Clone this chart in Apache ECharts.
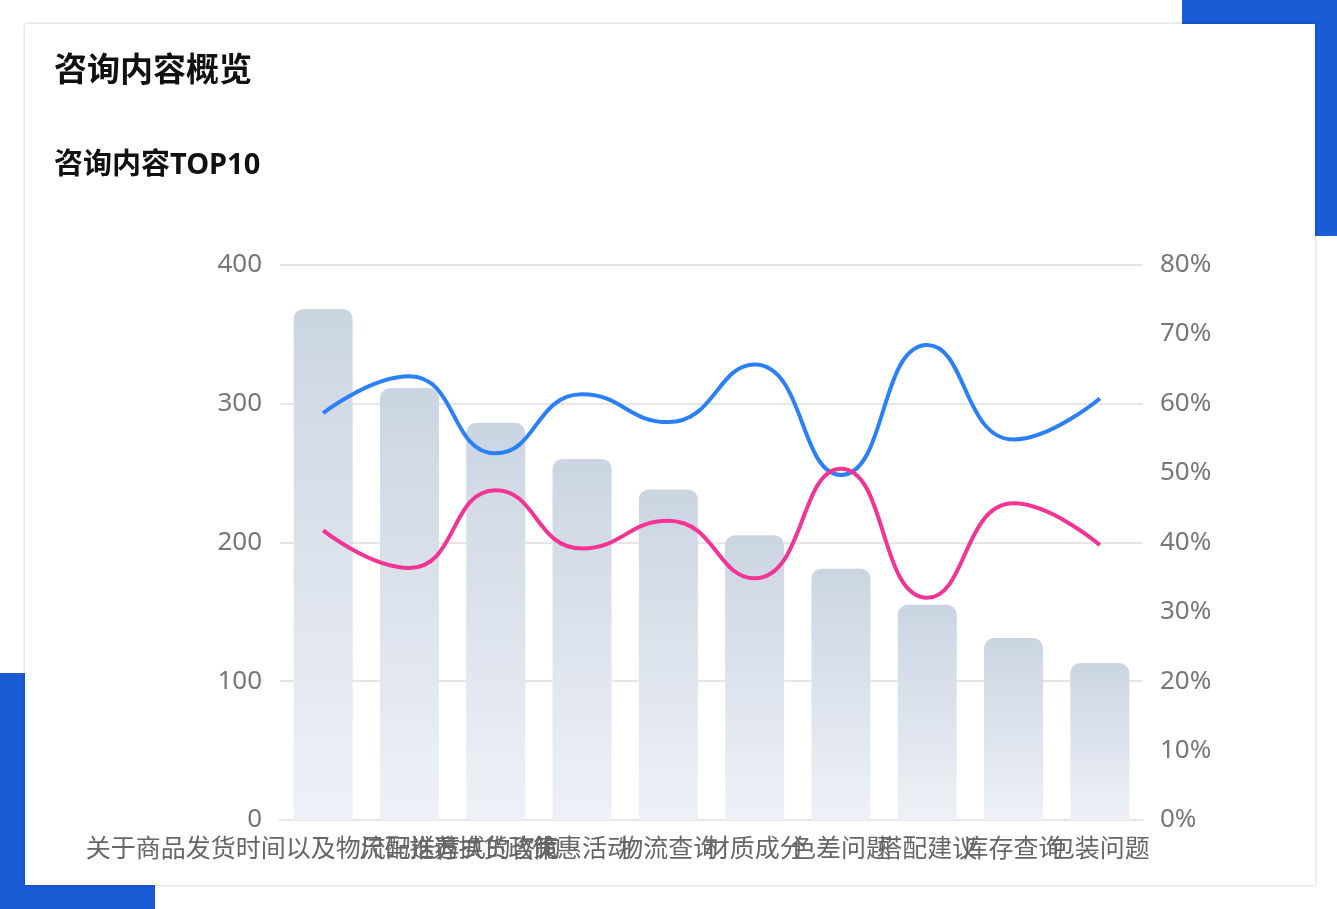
<!DOCTYPE html>
<html>
<head>
<meta charset="utf-8">
<script src="https://cdn.jsdelivr.net/npm/echarts@6/dist/echarts.min.js"></script>
<style>
html,body{margin:0;padding:0;width:1337px;height:909px;background:#fff;overflow:hidden;}
.blk{position:absolute;background:#1a5bd6;}
#card{position:absolute;left:25px;top:24px;width:1290px;height:861px;background:#fff;box-shadow:0 0 3px rgba(0,0,0,0.25);}
#chart{position:absolute;left:0;top:0;width:1337px;height:909px;}
</style>
</head>
<body>
<div class="blk" style="left:1182px;top:0;width:155px;height:236px;"></div>
<div class="blk" style="left:0;top:673px;width:155px;height:236px;"></div>
<div id="card"></div>
<div id="chart"></div>
<script>
const categories = ['关于商品发货时间以及物流配送方式的咨询','尺码推荐','退换货政策','优惠活动','物流查询','材质成分','色差问题','搭配建议','库存查询','包装问题'];
const barValues = [368, 311, 286, 260, 238, 205, 181, 155, 131, 113];
const blueRates = [58.6, 63.9, 52.8, 61.3, 57.3, 65.6, 49.7, 68.4, 54.8, 60.7];
const pinkRates = [41.7, 36.3, 47.5, 39.1, 43.1, 34.8, 50.6, 32.0, 45.6, 39.6];

const chart = echarts.init(document.getElementById('chart'), null, {renderer:'canvas'});
const font = '"Noto Sans", "Noto Sans CJK SC", sans-serif';
chart.setOption({
  backgroundColor: 'transparent',
  animation: false,
  title: [
    {text:'咨询内容概览', left:49, top:50, textStyle:{fontSize:33, fontWeight:'bold', color:'#111', fontFamily:font}},
    {text:'咨询内容TOP10', left:49, top:146, textStyle:{fontSize:29, fontWeight:'bold', color:'#111', fontFamily:font}}
  ],
  grid: {left:280, right:194, top:264.5, bottom:89, containLabel:false},
  xAxis: {
    type:'category', data:categories,
    axisLine:{show:true, lineStyle:{color:'#e6e6e6', width:2}},
    axisTick:{show:false},
    axisLabel:{color:'#666', fontSize:25, margin:17, interval:0, fontFamily:font}
  },
  yAxis: [
    {type:'value', min:0, max:400, interval:100,
     axisLine:{show:false}, axisTick:{show:false},
     splitLine:{lineStyle:{color:'#e6e6e6', width:2}},
     axisLabel:{color:'#777', fontSize:26, margin:18, fontFamily:font}},
    {type:'value', min:0, max:80, interval:10,
     axisLine:{show:false}, axisTick:{show:false}, splitLine:{show:false},
     axisLabel:{color:'#777', fontSize:26, margin:17, formatter:'{value}%', fontFamily:font}}
  ],
  series: [
    {type:'bar', data:barValues, barWidth:59,
     itemStyle:{borderRadius:[10,10,0,0],
       color:new echarts.graphic.LinearGradient(0,0,0,1,[{offset:0,color:'#cbd5e2'},{offset:1,color:'#eef1f7'}])}},
    {type:'line', yAxisIndex:1, data:blueRates, smooth:true, symbol:'none',
     lineStyle:{color:'#2c80f7', width:4}},
    {type:'line', yAxisIndex:1, data:pinkRates, smooth:true, symbol:'none',
     lineStyle:{color:'#f23594', width:4}}
  ]
});
</script>
</body>
</html>
